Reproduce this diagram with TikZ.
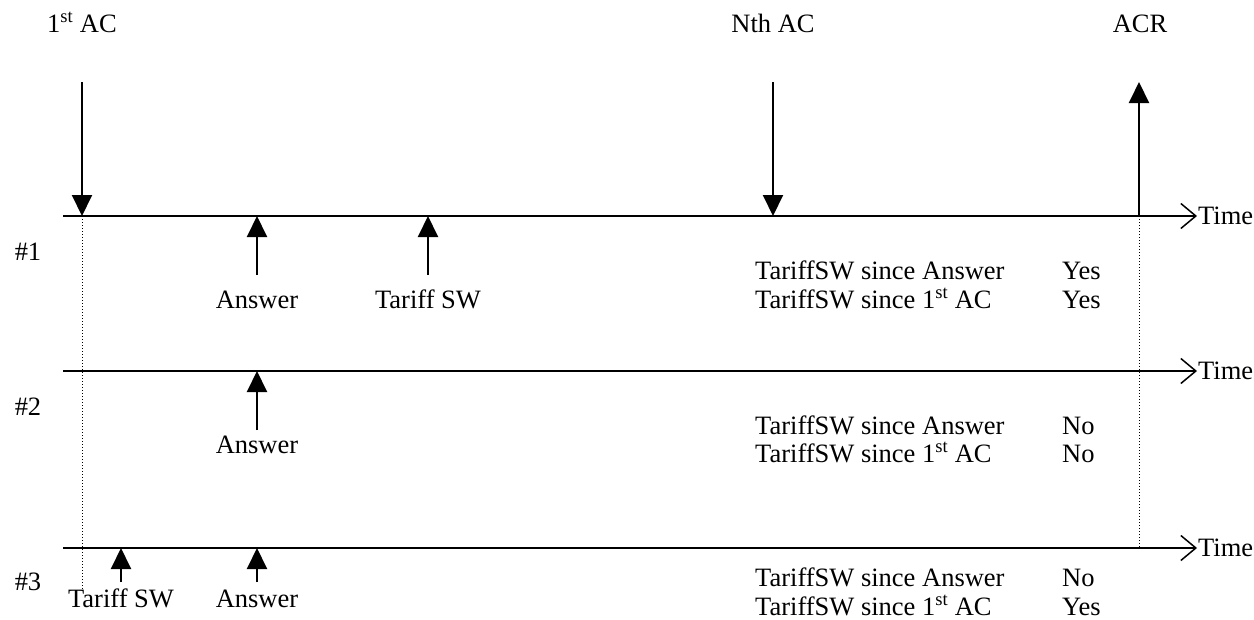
\documentclass[tikz,border=0pt]{standalone}
\usepackage{fontspec}
\setmainfont{Liberation Serif}
\usetikzlibrary{arrows.meta}
\begin{document}
\begin{tikzpicture}[x=1pt,y=-1pt,
  txt/.style={inner sep=0pt,font=\fontsize{26.5}{30}\selectfont},
  evarrow/.style={line width=2pt,-{Triangle[length=21pt,width=20pt]}},
  timeline/.style={line width=1.5pt,-{Straight Barb[length=15pt,width=25pt,line width=1.5pt]}},
  guide/.style={line width=1pt,dotted}]
\useasboundingbox (0,0) rectangle (1254,619);
% titles
\node[txt,anchor=base] (firstac) at (82,32) {1\textsuperscript{st} AC};
\node[txt,anchor=base] (nthac) at (773,32) {Nth AC};
\node[txt,anchor=base] (acr) at (1140,32) {ACR};
% coordinates
\coordinate (a1top) at (82,82);
\coordinate (a1bot) at (82,216);
\coordinate (nTop) at (773,82);
\coordinate (nBot) at (773,216);
\coordinate (rTop) at (1139,82);
\coordinate (rBot) at (1139,216);
\coordinate (t1s) at (63,216);
\coordinate (t1e) at (1197,216);
\coordinate (t2s) at (63,371);
\coordinate (t2e) at (1197,371);
\coordinate (t3s) at (63,548);
\coordinate (t3e) at (1197,548);
\coordinate (d1e) at (82,590);
\coordinate (d2e) at (1139,548);
% timelines
\draw[timeline] (t1s) -- (t1e);
\draw[timeline] (t2s) -- (t2e);
\draw[timeline] (t3s) -- (t3e);
\node[txt,anchor=west] (time1) at (1198,216) {Time};
\node[txt,anchor=west] (time2) at (1198,371) {Time};
\node[txt,anchor=west] (time3) at (1198,548) {Time};
% dotted guides
\draw[guide] (a1bot) -- (d1e);
\draw[guide] (rBot) -- (d2e);
% top arrows
\draw[evarrow] (a1top) -- (a1bot);
\draw[evarrow] (nTop) -- (nBot);
\draw[evarrow] (rBot) -- (rTop);
% row labels
\node[txt,anchor=base] (r1) at (28,260) {\#1};
\node[txt,anchor=base] (r2) at (28,415) {\#2};
\node[txt,anchor=base] (r3) at (28,590) {\#3};
% row 1 events
\coordinate (ans1b) at (257,275); \coordinate (ans1t) at (257,216);
\coordinate (tsw1b) at (428,275); \coordinate (tsw1t) at (428,216);
\draw[evarrow] (ans1b) -- (ans1t);
\draw[evarrow] (tsw1b) -- (tsw1t);
\node[txt,anchor=base] (ans1) at (257,308) {Answer};
\node[txt,anchor=base] (tsw1) at (428,308) {Tariff SW};
% row 2 events
\coordinate (ans2b) at (257,430); \coordinate (ans2t) at (257,371);
\draw[evarrow] (ans2b) -- (ans2t);
\node[txt,anchor=base] (ans2) at (257,453) {Answer};
% row 3 events
\coordinate (tsw3b) at (121,582); \coordinate (tsw3t) at (121,548);
\coordinate (ans3b) at (257,582); \coordinate (ans3t) at (257,548);
\draw[evarrow] (tsw3b) -- (tsw3t);
\draw[evarrow] (ans3b) -- (ans3t);
\node[txt,anchor=base] (tsw3) at (121,607) {Tariff SW};
\node[txt,anchor=base] (ans3) at (257,607) {Answer};
% result tables
\node[txt,anchor=base west] (q1a) at (755,279) {TariffSW since Answer};
\node[txt,anchor=base west] (q1b) at (755,308) {TariffSW since 1\textsuperscript{st} AC};
\node[txt,anchor=base west] (v1a) at (1062,279) {Yes};
\node[txt,anchor=base west] (v1b) at (1062,308) {Yes};
\node[txt,anchor=base west] (q2a) at (755,434) {TariffSW since Answer};
\node[txt,anchor=base west] (q2b) at (755,462) {TariffSW since 1\textsuperscript{st} AC};
\node[txt,anchor=base west] (v2a) at (1062,434) {No};
\node[txt,anchor=base west] (v2b) at (1062,462) {No};
\node[txt,anchor=base west] (q3a) at (755,586) {TariffSW since Answer};
\node[txt,anchor=base west] (q3b) at (755,615) {TariffSW since 1\textsuperscript{st} AC};
\node[txt,anchor=base west] (v3a) at (1062,586) {No};
\node[txt,anchor=base west] (v3b) at (1062,615) {Yes};
\end{tikzpicture}
\end{document}
